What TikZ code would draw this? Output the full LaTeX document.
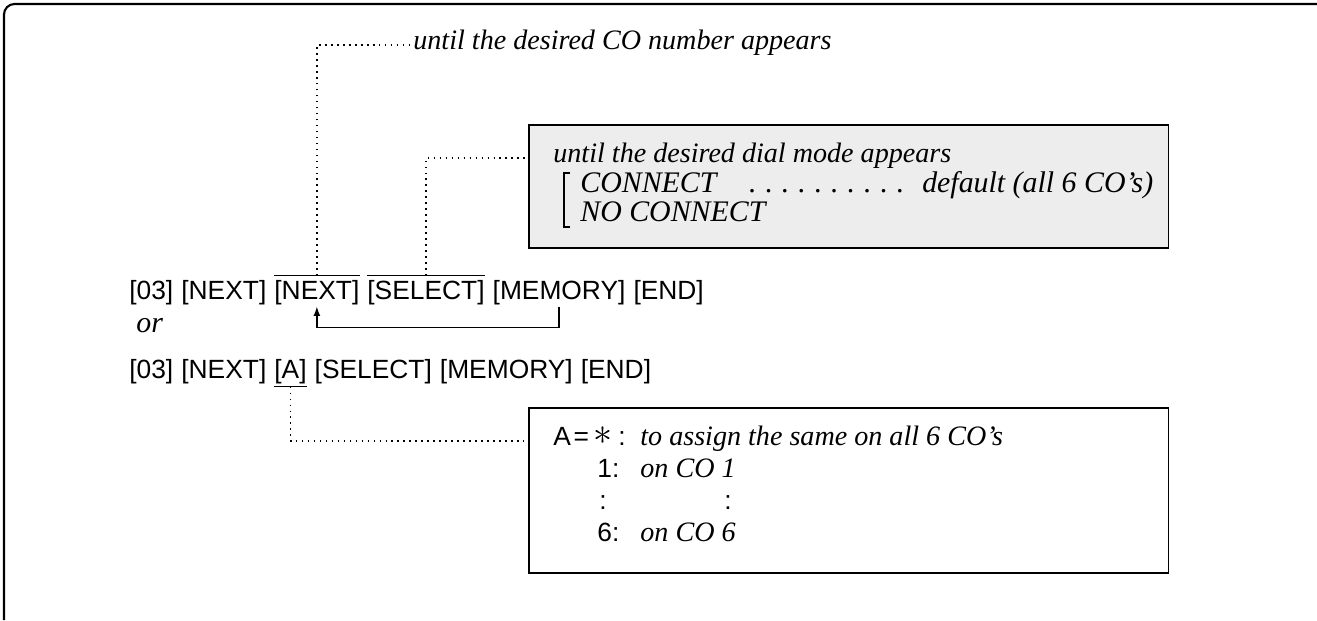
\documentclass[tikz,border=0pt]{standalone}
\usepackage{fontspec}
\setmainfont{Liberation Serif}
\setsansfont{Liberation Sans}
\usepackage{graphicx}
\usepackage{tikz}
\usetikzlibrary{positioning}
\newcommand{\dotrule}{\leaders\hbox to 0.55em{\hss.\hss}\hfill}
\newcommand{\bigast}{\raisebox{0.3pt}{\scalebox{1.5}{$\ast$}}}

\begin{document}
\begin{tikzpicture}[x=0.02cm, y=-0.02cm,
key/.style={font=\sffamily\fontsize{15}{18}\selectfont, inner sep=0pt, text height=10.9pt, text depth=3.2pt},
digit/.style={font=\sffamily\fontsize{15}{18}\selectfont, inner sep=0pt, anchor=base west},
note/.style={font=\itshape\fontsize{16}{19}\selectfont, inner sep=0pt, anchor=base west},
capsnote/.style={note, font=\itshape\fontsize{17}{20}\selectfont},
panel/.style={draw, line width=0.9pt, minimum width=12.8cm, anchor=north west, inner sep=0pt},
lead/.style={line width=0.9pt, dash pattern=on 0.9pt off 2.5pt},
bar/.style={line width=0.8pt},
node distance=4.2pt
]
\useasboundingbox (0,0) rectangle (1317,620);
\draw[line width=1.2pt, rounded corners=6pt] (4,620) -- (4,4) -- (1317,4);

\node[key, anchor=base west] (k03) at (129,299) {[03]};
\node[key, right=of k03] (knext) {[NEXT]};
\node[key, right=of knext] (krep) {[NEXT]};
\node[key, right=of krep] (ksel) {[SELECT]};
\node[key, right=of ksel] (kmem) {[MEMORY]};
\node[key, right=of kmem] (kend) {[END]};
\draw[bar] ([yshift=2.2pt]krep.north west) -- ([yshift=2.2pt]krep.north east);
\draw[bar] ([yshift=2.2pt]ksel.north west) -- ([yshift=2.2pt]ksel.north east);
\draw[bar, ->, >=latex] ([yshift=-1pt]kmem.south) -- ++(0,21) -| ([yshift=-1pt]krep.south);

\node[note, font=\itshape\fontsize{17}{20}\selectfont] (ortext) at (136,332) {or};

\node[key, anchor=base west] (a03) at (129,378) {[03]};
\node[key, right=of a03] (anext) {[NEXT]};
\node[key, right=of anext] (aa) {[A]};
\node[key, right=of aa] (asel) {[SELECT]};
\node[key, right=of asel] (amem) {[MEMORY]};
\node[key, right=of amem] (aend) {[END]};
\draw[bar] ([yshift=-1.5pt]aa.south west) -- ([yshift=-1.5pt]aa.south east);

\node[note] (cotext) at (413,49) {until the desired CO number appears};
\draw[lead] ([yshift=2.2pt]krep.north) |- ([xshift=-2pt]cotext.mid west);

\node[panel, fill=black!7, minimum height=2.46cm] (dialbox) at (528,124) {};
\node[note] (dialhead) at (553,162) {until the desired dial mode appears};
\node[capsnote] (dialon) at (580,192) {\hbox to 11.46cm{CONNECT\hspace{0.9em}\dotrule\hspace{0.3em}default (all 6 CO's)}};
\node[capsnote] (dialoff) at (580,221) {NO CONNECT};
\draw[bar] (570,173) -| (564,227) -- (570,227);
\draw[lead] ([yshift=2.2pt]ksel.north) |- (dialbox.west |- dialhead.mid);

\node[panel, minimum height=3.30cm] (codebox) at (528,407) {};
\node[digit] (coall) at (553,445) {A\kern1.5pt=\kern2.5pt\bigast\kern3.5pt:};
\node[note] (cohead) at (640,445) {to assign the same on all 6 CO's};
\node[digit] (cofirst) at (597,477) {1:};
\node[note] (cofirstt) at (640,477) {on CO 1};
\node[digit] (cogap) at (599,509) {:};
\node[digit] (cogapt) at (724,509) {:};
\node[digit] (colast) at (597,541) {6:};
\node[note] (colastt) at (640,541) {on CO 6};
\draw[lead] ([yshift=-1.5pt]aa.south) |- (codebox.west |- coall.mid);
\end{tikzpicture}
\end{document}
